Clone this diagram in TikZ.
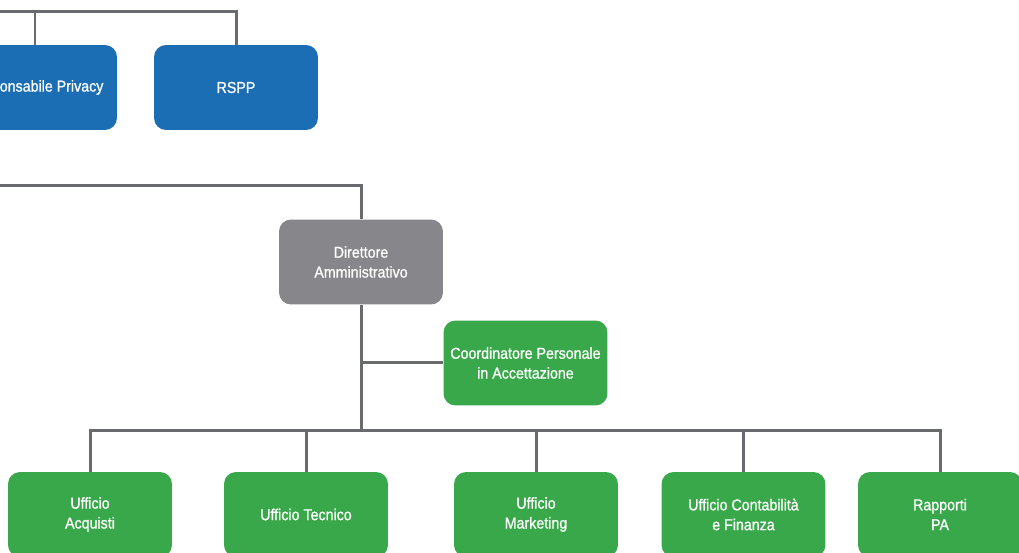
\documentclass[tikz,border=0pt]{standalone}
\usepackage{fontspec}
\setmainfont{Liberation Sans}[FakeStretch=0.9, FakeBold=0.9]
\usepackage{tikz}
\usetikzlibrary{positioning}
\definecolor{orgblue}{HTML}{1C6EB4}
\definecolor{orggray}{HTML}{87878B}
\definecolor{orggreen}{HTML}{39A84A}
\definecolor{orgline}{HTML}{696A6D}

\tikzset{
  unit/.style={rectangle, rounded corners=0.24cm, minimum width=3.28cm,
    minimum height=1.7cm, inner sep=0pt, align=center, text=white,
    font=\fontsize{9}{11.3}\selectfont},
  staff/.style={unit, fill=orgblue},
  head/.style={unit, fill=orggray},
  office/.style={unit, fill=orggreen},
  link/.style={draw=orgline, line width=0.06cm}
}

\begin{document}
\begin{tikzpicture}[x=0.02cm, y=-0.02cm]
  \useasboundingbox (0,0) rectangle (1019,553);
  \clip (0,0) rectangle (1019,553);
  % Define nodes
  \node[staff] (privacy) at (35,87.5) {Responsabile Privacy};
  \node[staff] (rspp) at (236,87.5) {RSPP};
  \node[head] (dir) at (361,262) {Direttore\\Amministrativo};
  \node[office] (coord) at (525.5,363) {Coordinatore Personale\\in Accettazione};
  \node[office] (acq) at (90,514.5) {Ufficio\\Acquisti};
  \node[office] (tec) at (306,514.5) {Ufficio Tecnico};
  \node[office] (mkt) at (536,514.5) {Ufficio\\Marketing};
  \node[office] (cont) at (743.5,514.5) {Ufficio Contabilità\\e Finanza};
  \node[office] (rap) at (940,514.5) {Rapporti\\PA};
  % Define bus points
  \coordinate (topL) at (0,12);
  \coordinate (midL) at (0,186);
  \coordinate (bus) at (361,431);
  % Define edges
  \draw[link] (topL) -| (rspp);
  \draw[link] (privacy) -- (privacy.north |- topL);
  \draw[link] (midL) -| (dir);
  \draw[link] (dir) -- (bus);
  \draw[link] (dir.south |- coord.west) -- (coord);
  \draw[link] (acq) |- (bus) -| (rap);
  \foreach \n in {tec,mkt,cont}
    \draw[link] (\n) -- (\n |- bus);
\end{tikzpicture}
\end{document}
